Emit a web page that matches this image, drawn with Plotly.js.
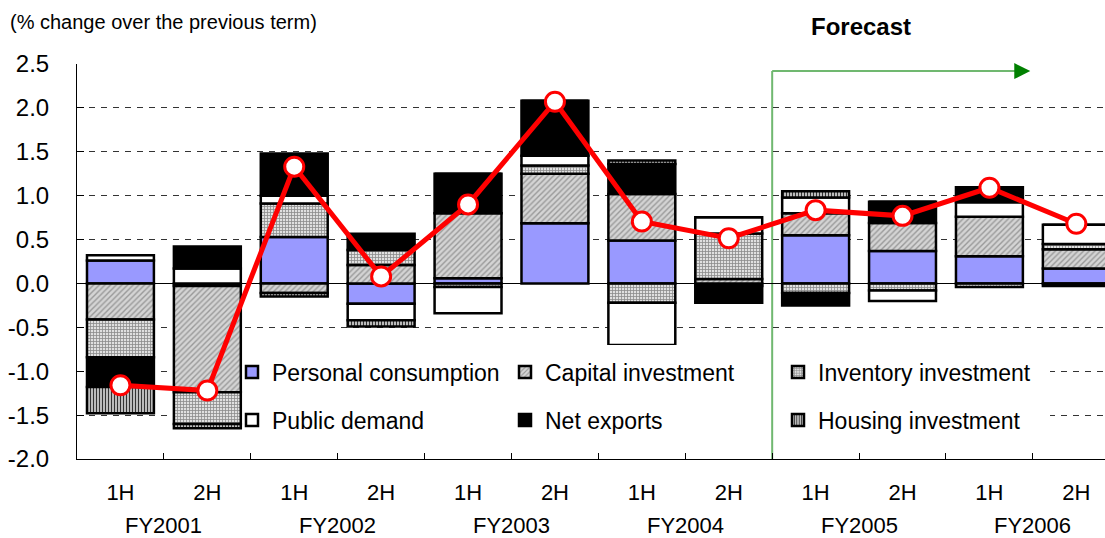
<!DOCTYPE html>
<html>
<head>
<meta charset="utf-8">
<script src="https://cdn.plot.ly/plotly-3.0.1.min.js"></script>
<style>html,body{margin:0;padding:0;background:#fff;}#chart{width:1105px;height:538px;}</style>
</head>
<body>
<div id="chart"></div>
<script>
// ---- data ----
var categories = ['2001-1H','2001-2H','2002-1H','2002-2H','2003-1H','2003-2H','2004-1H','2004-2H','2005-1H','2005-2H','2006-1H','2006-2H'];
var halfLabels = ['1H','2H','1H','2H','1H','2H','1H','2H','1H','2H','1H','2H'];
var fyLabels = ['FY2001','FY2002','FY2003','FY2004','FY2005','FY2006'];
var personal   = [0.26, -0.03, 0.53, -0.23, 0.06, 0.685, 0.49, -0.03, 0.55, 0.37, 0.31, 0.17];
var capital    = [-0.41, -1.21, -0.11, 0.21, 0.74, 0.565, 0.53, 0.05, 0.25, 0.32, 0.45, 0.22];
var inventory  = [-0.43, -0.36, 0.38, 0.17, -0.04, 0.095, -0.22, 0.52, -0.11, -0.08, -0.04, 0.06];
var publicDem  = [0.06, 0.17, 0.09, -0.19, -0.30, 0.11, -0.48, 0.185, 0.18, -0.12, 0.165, 0.22];
var netExports = [-0.34, 0.25, 0.48, 0.185, 0.45, 0.625, 0.34, -0.19, -0.14, 0.24, 0.17, -0.03];
var housing    = [-0.30, -0.05, -0.04, -0.07, 0, 0, 0.04, 0, 0.07, 0, 0, 0];
var gdp        = [-1.16, -1.22, 1.33, 0.08, 0.90, 2.07, 0.705, 0.515, 0.835, 0.77, 1.09, 0.68];
var yTickVals  = [-2.0, -1.5, -1.0, -0.5, 0.0, 0.5, 1.0, 1.5, 2.0, 2.5];
var yTickText  = ['-2.0','-1.5','-1.0','-0.5','0.0','0.5','1.0','1.5','2.0','2.5'];

var FONT = 'Liberation Sans, Arial, sans-serif';
var border = {color: '#000', width: 2.5};

function barTrace(name, vals, color, pattern, legend) {
  var m = {color: color, line: border};
  if (pattern) m.pattern = pattern;
  return {type: 'bar', name: name, x: categories, y: vals, marker: m, legend: legend, hoverinfo: 'name+y'};
}

var traces = [
  barTrace('Personal consumption', personal, '#9999ff', null, 'legend'),
  barTrace('Capital investment', capital, '#c8c8c8', {shape: '/', fgcolor: '#999999', bgcolor: '#d4d4d4', size: 4, solidity: 0.35}, 'legend'),
  barTrace('Inventory investment', inventory, '#b0b0b0', {shape: '+', fgcolor: '#8a8a8a', bgcolor: '#e0e0e0', size: 3, solidity: 0.45}, 'legend'),
  barTrace('Public demand', publicDem, '#ffffff', null, 'legend2'),
  barTrace('Net exports', netExports, '#000000', null, 'legend2'),
  barTrace('Housing investment', housing, '#999999', {shape: '|', fgcolor: '#333333', bgcolor: '#d8d8d8', size: 3, solidity: 0.45}, 'legend2'),
  {type: 'scatter', mode: 'lines+markers', x: categories, y: gdp, showlegend: false,
   line: {color: '#ff0000', width: 5},
   marker: {symbol: 'circle', size: 19, color: '#ffffff', line: {color: '#ff0000', width: 3}},
   hoverinfo: 'y'}
];

var annotations = fyLabels.map(function (t, i) {
  return {text: t, x: 2 * i + 0.5, xref: 'x', y: -0.168, yref: 'paper', showarrow: false,
          yanchor: 'middle', font: {family: FONT, size: 22, color: '#000'}};
});
annotations.push({text: '<b>Forecast</b>', x: (861 - 77) / 1028, xref: 'paper', xanchor: 'center',
  y: (459 - 27) / 395, yref: 'paper', yanchor: 'middle', showarrow: false,
  font: {family: FONT, size: 24, color: '#000'}});
annotations.push({text: '', x: 10.47, y: 2.42, xref: 'x', yref: 'y', ax: 10.3, ay: 2.42, axref: 'x', ayref: 'y',
  showarrow: true, arrowhead: 2, arrowsize: 1.6, arrowwidth: 2, arrowcolor: '#008000'});

var legendY1 = (459 - 440) / 395, legendY2 = (459 - 345) / 395;

var layout = {
  width: 1105, height: 538,
  margin: {l: 77, r: 0, t: 64, b: 79},
  paper_bgcolor: '#fff', plot_bgcolor: '#fff',
  font: {family: FONT, color: '#000'},
  title: {text: '(% change over the previous term)', x: 10 / 1105, xanchor: 'left', xref: 'container',
          y: 1 - 22 / 538, yanchor: 'middle', yref: 'container', font: {family: FONT, size: 20, color: '#000'}},
  barmode: 'relative', bargap: 0.23,
  showlegend: true,
  legend: {orientation: 'h', x: (232 - 77) / 1028, xanchor: 'left', y: (459 - 372) / 395, yanchor: 'middle',
           bgcolor: 'rgba(0,0,0,0)', entrywidth: 228, traceorder: 'normal', font: {family: FONT, size: 23, color: '#000'}},
  legend2: {orientation: 'h', x: (232 - 77) / 1028, xanchor: 'left', y: (459 - 420) / 395, yanchor: 'middle',
           bgcolor: 'rgba(0,0,0,0)', entrywidth: 228, traceorder: 'normal', font: {family: FONT, size: 23, color: '#000'}},
  xaxis: {type: 'category', range: [-0.5, 11.33], tickmode: 'array', tickvals: categories, ticktext: halfLabels,
          tickson: 'boundaries', ticks: 'inside', ticklen: 6, tickcolor: '#000', tickwidth: 1,
          showline: true, linecolor: '#000', linewidth: 1, showgrid: false, ticklabelstandoff: 14,
          tickfont: {family: FONT, size: 22, color: '#000'}, fixedrange: true},
  yaxis: {range: [-2.0, 2.5], tickmode: 'array', tickvals: yTickVals, ticktext: yTickText,
          ticks: 'inside', ticklen: 7, tickcolor: '#000', tickwidth: 1,
          showline: true, linecolor: '#000', linewidth: 1,
          showgrid: true, gridcolor: '#333', gridwidth: 1, griddash: '6px,6px',
          zeroline: true, zerolinecolor: '#000', zerolinewidth: 1, ticklabelstandoff: 22,
          tickfont: {family: FONT, size: 24, color: '#000'}, fixedrange: true},
  shapes: [
    {type: 'line', xref: 'x', yref: 'y', x0: 7.5, x1: 7.5, y0: -2.0, y1: 2.42, line: {color: '#70b870', width: 2}, layer: 'below'},
    {type: 'line', xref: 'x', yref: 'y', x0: 7.5, x1: 10.3, y0: 2.42, y1: 2.42, line: {color: '#70b870', width: 2}, layer: 'below'},
    {type: 'rect', xref: 'paper', yref: 'paper', x0: (245 - 77) / 1028, x1: (1050 - 77) / 1028,
     y0: legendY1, y1: legendY2, fillcolor: '#fff', line: {width: 0}, layer: 'above'},
    {type: 'line', xref: 'x', yref: 'paper', x0: 7.5, x1: 7.5, y0: legendY1, y1: legendY2, line: {color: '#70b870', width: 2}, layer: 'above'}
  ],
  annotations: annotations
};

Plotly.newPlot('chart', traces, layout, {displayModeBar: false, staticPlot: true});
</script>
</body>
</html>
